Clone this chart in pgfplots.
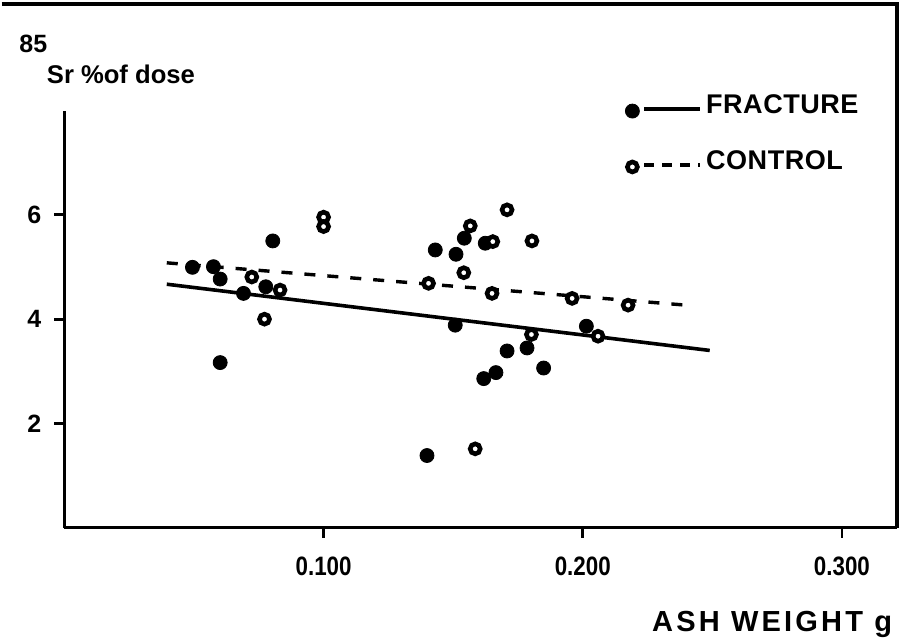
\documentclass[border=0pt]{standalone}
\usepackage{fontspec}
\setmainfont{Liberation Sans}
\newfontfamily\narrowbf[FakeStretch=0.84]{Liberation Sans}
\newfontfamily\spaced[LetterSpace=2]{Liberation Sans}
\newfontfamily\wide[LetterSpace=11]{Liberation Sans}
\usepackage{pgfplots}
\pgfplotsset{compat=1.18}
\pgfplotsset{
  fracleg/.style={legend image code/.code={\draw[##1] plot coordinates {(0pt,-2.5pt)};
    \draw[solid, line width=1.7pt] (6pt,-1.5pt) -- (34pt,-1.5pt);}},
  ctrlleg/.style={legend image code/.code={\draw[##1] plot coordinates {(0pt,-2.5pt)};
    \draw[solid, line width=1.7pt, dash pattern=on 5pt off 4pt] (6pt,-1.5pt) -- (34pt,-1.5pt);}},
}

\begin{document}
\begin{tikzpicture}
\begin{axis}[
  scale only axis,
  width=416pt, height=208.5pt,
  xmin=0, xmax=0.3212, ymin=0, ymax=8,
  axis x line=bottom, axis y line=left,
  axis line style={-, line width=1.7pt},
  xtick={0.1,0.2,0.3}, xticklabels={0.100,0.200,0.300},
  ytick={2,4,6},
  /pgf/number format/assume math mode=true,
  tick align=outside, major tick length=5pt,
  tick style={line width=1.4pt, black},
  xticklabel style={font=\narrowbf\bfseries\fontsize{13.3}{15}\selectfont, yshift=-6pt},
  yticklabel style={font=\bfseries\fontsize{12.5}{14}\selectfont, xshift=-3pt},
  clip=false,
  legend style={at={(axis cs:0.2163,8.38)}, anchor=north west, draw=none, fill=none,
    inner sep=0pt, row sep=13pt,
    font=\spaced\bfseries\fontsize{13.5}{15}\selectfont},
  legend cell align=left,
]
% regression lines
\addplot[line width=1.8pt, black, forget plot] coordinates {(0.0395,4.67) (0.249,3.40)};
\addplot[line width=1.7pt, black, dash pattern=on 5.5pt off 6pt, forget plot]
  coordinates {(0.0395,5.08) (0.2395,4.27)};

% fracture
\addplot[only marks, mark=*, mark size=3.5pt, black, fracleg]
coordinates {
 (0.0494,4.994) (0.0575,5.006) (0.0601,4.769) (0.0601,3.167) (0.0691,4.494)
 (0.0804,5.500) (0.0777,4.621) (0.1431,5.327) (0.1511,5.244) (0.1543,5.552)
 (0.1624,5.456) (0.1508,3.885) (0.2014,3.865) (0.1708,3.390) (0.1785,3.448)
 (0.1849,3.063) (0.1665,2.975) (0.1618,2.860) (0.1399,1.385)
};
\addlegendentry{FRACTURE}

% control
\addplot[only marks, mark=*, mark size=2.5pt, mark options={draw=black, fill=white, line width=2.3pt}, ctrlleg]
coordinates {
 (0.0723,4.808) (0.0832,4.558) (0.0772,4.000) (0.1000,5.956) (0.1000,5.775)
 (0.1708,6.096) (0.1566,5.788) (0.1653,5.487) (0.1804,5.500) (0.1541,4.890)
 (0.1405,4.687) (0.1650,4.494) (0.1959,4.398) (0.2175,4.269) (0.1802,3.706)
 (0.2059,3.673) (0.1585,1.513)
};
\addlegendentry{CONTROL}

% figure frame (top and right)
\draw[line width=1.7pt] (axis cs:-0.0242,10.04) -- (axis cs:0.3212,10.04) -- (axis cs:0.3212,0);
\path (axis cs:0.3228,0) (axis cs:0,10.12);

% labels
\node[anchor=west, inner sep=0pt, font=\bfseries\fontsize{12.5}{14}\selectfont] at (axis cs:-0.0175,9.27) {85};
\node[anchor=west, inner sep=0pt, font=\bfseries\fontsize{12.8}{14}\selectfont] at (axis cs:-0.0069,8.69) {Sr \%of dose};
\node[anchor=base east, inner sep=0pt, font=\wide\bfseries\fontsize{14.5}{16}\selectfont] at (axis cs:0.3195,-1.98) {ASH WEIGHT g};
\end{axis}
\end{tikzpicture}
\end{document}
